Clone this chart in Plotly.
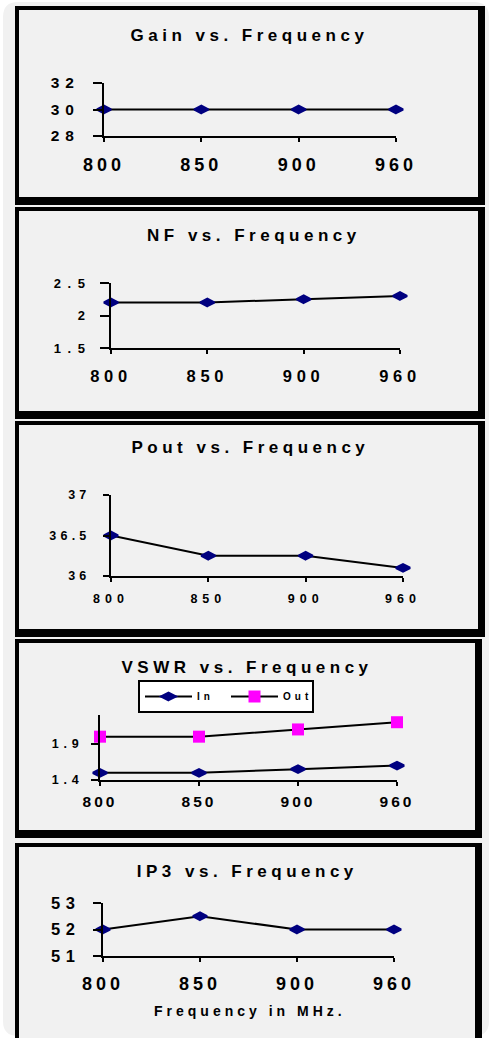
import json
import plotly.graph_objects as go

W, H = 489, 1038
FONT = "Liberation Sans, Arial, sans-serif"

# ---------------- data ----------------
freq = ["800", "850", "900", "960"]
gain = [30, 30, 30, 30]
nf = [2.2, 2.2, 2.25, 2.3]
pout = [36.5, 36.25, 36.25, 36.1]
vswr_in = [1.5, 1.5, 1.55, 1.6]
vswr_out = [2.0, 2.0, 2.1, 2.2]
ip3 = [52, 52.5, 52, 52]

titles = ["Gain vs. Frequency", "NF vs. Frequency", "Pout vs. Frequency",
          "VSWR vs. Frequency", "IP3 vs. Frequency"]
x_axis_title = "Frequency in MHz."
series_names = ["In", "Out"]
y_ranges = [[28, 32], [1.5, 2.5], [36, 37], [1.4, 2.3], [51, 53]]
y_tick0 = [28, 1.5, 36, 1.4, 51]
y_dtick = [2, 0.5, 0.5, 0.5, 1]

# ---------------- layout geometry (pixels) ----------------
frames = [(15, 6, 485, 205), (15, 207, 485, 419), (15, 421, 485, 637),
          (15, 639, 482, 838), (15, 843, 482, 1070)]
plots = [(104, 83, 396, 136), (111, 283, 400, 348), (111, 495, 403, 576),
         (100, 715, 397, 780), (103, 903, 394, 956)]
title_pos = [(249.5, 35.5), (254, 236), (251, 448), (247, 667.5), (247, 871.3)]
xt_size = [18, 16.5, 12.5, 15.5, 18]
yt_size = [15.5, 13, 12.5, 12.5, 16.5]
xt_sp = [4, 4.7, 5, 3, 4]
yt_sp = [6, 6.5, 4.2, 4.8, 5.7]
y_ticklen = [9, 9, 6, 7, 8]
y_standoff = [10, 6, 10, 5, 9]
x_standoff = [7, 8, 6, 2, 6]
GREY = "#f1f1f1"


def px(x):
    return x / W


def py(y):
    return 1 - y / H


def rrect(x0, y0, x1, y1, r):
    pts = [
        f"M{px(x0 + r)},{py(y0)}",
        f"L{px(x1 - r)},{py(y0)}",
        f"Q{px(x1)},{py(y0)} {px(x1)},{py(y0 + r)}",
        f"L{px(x1)},{py(y1 - r)}",
        f"Q{px(x1)},{py(y1)} {px(x1 - r)},{py(y1)}",
        f"L{px(x0 + r)},{py(y1)}",
        f"Q{px(x0)},{py(y1)} {px(x0)},{py(y1 - r)}",
        f"L{px(x0)},{py(y0 + r)}",
        f"Q{px(x0)},{py(y0)} {px(x0 + r)},{py(y0)}",
        "Z",
    ]
    return " ".join(pts)


fig = go.Figure()

shapes = [dict(type="path", xref="paper", yref="paper", path=rrect(3, 2, 489, 1036, 15),
               fillcolor=GREY, line=dict(width=0), layer="below")]
for (x0, y0, x1, y1) in frames:
    shapes.append(dict(type="rect", xref="paper", yref="paper",
                       x0=px(x0), x1=px(x1), y0=py(y1), y1=py(y0),
                       fillcolor="black", line=dict(width=0), layer="below"))
    shapes.append(dict(type="rect", xref="paper", yref="paper",
                       x0=px(x0 + 4), x1=px(x1 - 7), y0=py(y1 - 8), y1=py(y0 + 4),
                       fillcolor=GREY, line=dict(width=0), layer="below"))

diamond = dict(symbol="diamond-wide", size=10, color="#000080",
               line=dict(color="#000080", width=2.5))
square = dict(symbol="square", size=12, color="#FF00FF",
              line=dict(color="#FF00FF", width=0))
line = dict(color="black", width=2)

panel_series = [
    [(gain, diamond, None)],
    [(nf, diamond, None)],
    [(pout, diamond, None)],
    [(vswr_in, diamond, series_names[0]), (vswr_out, square, series_names[1])],
    [(ip3, diamond, None)],
]

layout_axes = {}
for i in range(5):
    n = "" if i == 0 else str(i + 1)
    for (vals, mk, name) in panel_series[i]:
        fig.add_trace(go.Scatter(
            x=freq, y=vals, mode="lines+markers", line=line, marker=mk,
            name=name if name else titles[i], showlegend=bool(name),
            cliponaxis=False, xaxis="x" + n, yaxis="y" + n, hoverinfo="skip"))
    l, t, r, b = plots[i]
    layout_axes["xaxis" + n] = dict(
        type="category", categoryorder="array", categoryarray=freq,
        range=[0, 3], domain=[px(l), px(r)], anchor="y" + n, automargin=False,
        showline=True, linecolor="black", linewidth=2, showgrid=False, zeroline=False,
        ticks="outside", ticklen=4, tickwidth=2, tickcolor="black",
        ticklabelstandoff=x_standoff[i],
        tickfont=dict(family=FONT, size=xt_size[i], color="black", weight="bold"),
        fixedrange=True)
    layout_axes["yaxis" + n] = dict(
        range=y_ranges[i], tick0=y_tick0[i], dtick=y_dtick[i],
        domain=[py(b), py(t)], anchor="x" + n, automargin=False,
        showline=True, linecolor="black", linewidth=2, showgrid=False, zeroline=False,
        ticks="outside", ticklen=y_ticklen[i], tickwidth=2, tickcolor="black",
        ticklabelstandoff=y_standoff[i],
        tickfont=dict(family=FONT, size=yt_size[i], color="black", weight="bold"),
        fixedrange=True)

annotations = []
for i, t in enumerate(titles):
    x, y = title_pos[i]
    annotations.append(dict(text=t, xref="paper", yref="paper", x=px(x), y=py(y),
                            xanchor="center", yanchor="middle", showarrow=False,
                            font=dict(family=FONT, size=17, color="black", weight="bold")))
annotations.append(dict(text=x_axis_title, xref="paper", yref="paper", x=px(250), y=py(1011),
                        xanchor="center", yanchor="middle", showarrow=False,
                        font=dict(family=FONT, size=14, color="black", weight="bold")))

fig.update_layout(
    width=W, height=H, margin=dict(l=0, r=0, t=0, b=0, pad=0, autoexpand=False),
    paper_bgcolor="white", plot_bgcolor="rgba(0,0,0,0)",
    shapes=shapes, annotations=annotations,
    showlegend=True,
    legend=dict(orientation="h", x=px(138), y=py(680), xanchor="left", yanchor="top",
                bgcolor="white", bordercolor="black", borderwidth=2,
                itemwidth=47, entrywidth=24, entrywidthmode="pixels",
                font=dict(family=FONT, size=10, color="black", weight="bold"),
                itemclick=False, itemdoubleclick=False),
    **layout_axes,
)

spacing = {}
for i in range(5):
    n = "" if i == 0 else str(i + 1)
    spacing[f"g.x{n}tick text"] = xt_sp[i]
    spacing[f"g.y{n}tick text"] = yt_sp[i]
    spacing[f'g.annotation[data-index="{i}"] text'] = 4.5
spacing['g.annotation[data-index="5"] text'] = 4
spacing["text.legendtext"] = 4

post = ("document.documentElement.style.margin='0';document.body.style.margin='0';"
        "document.body.style.overflow='hidden';"
        "var gd=document.getElementById('{plot_id}');var sp=" + json.dumps(spacing) +
        ";Object.keys(sp).forEach(function(s){gd.querySelectorAll(s).forEach(function(e){"
        "e.style.letterSpacing=sp[s]+'px';});});")

fig.write_html("out.html", config={"displayModeBar": False, "staticPlot": True},
               post_script=post)
